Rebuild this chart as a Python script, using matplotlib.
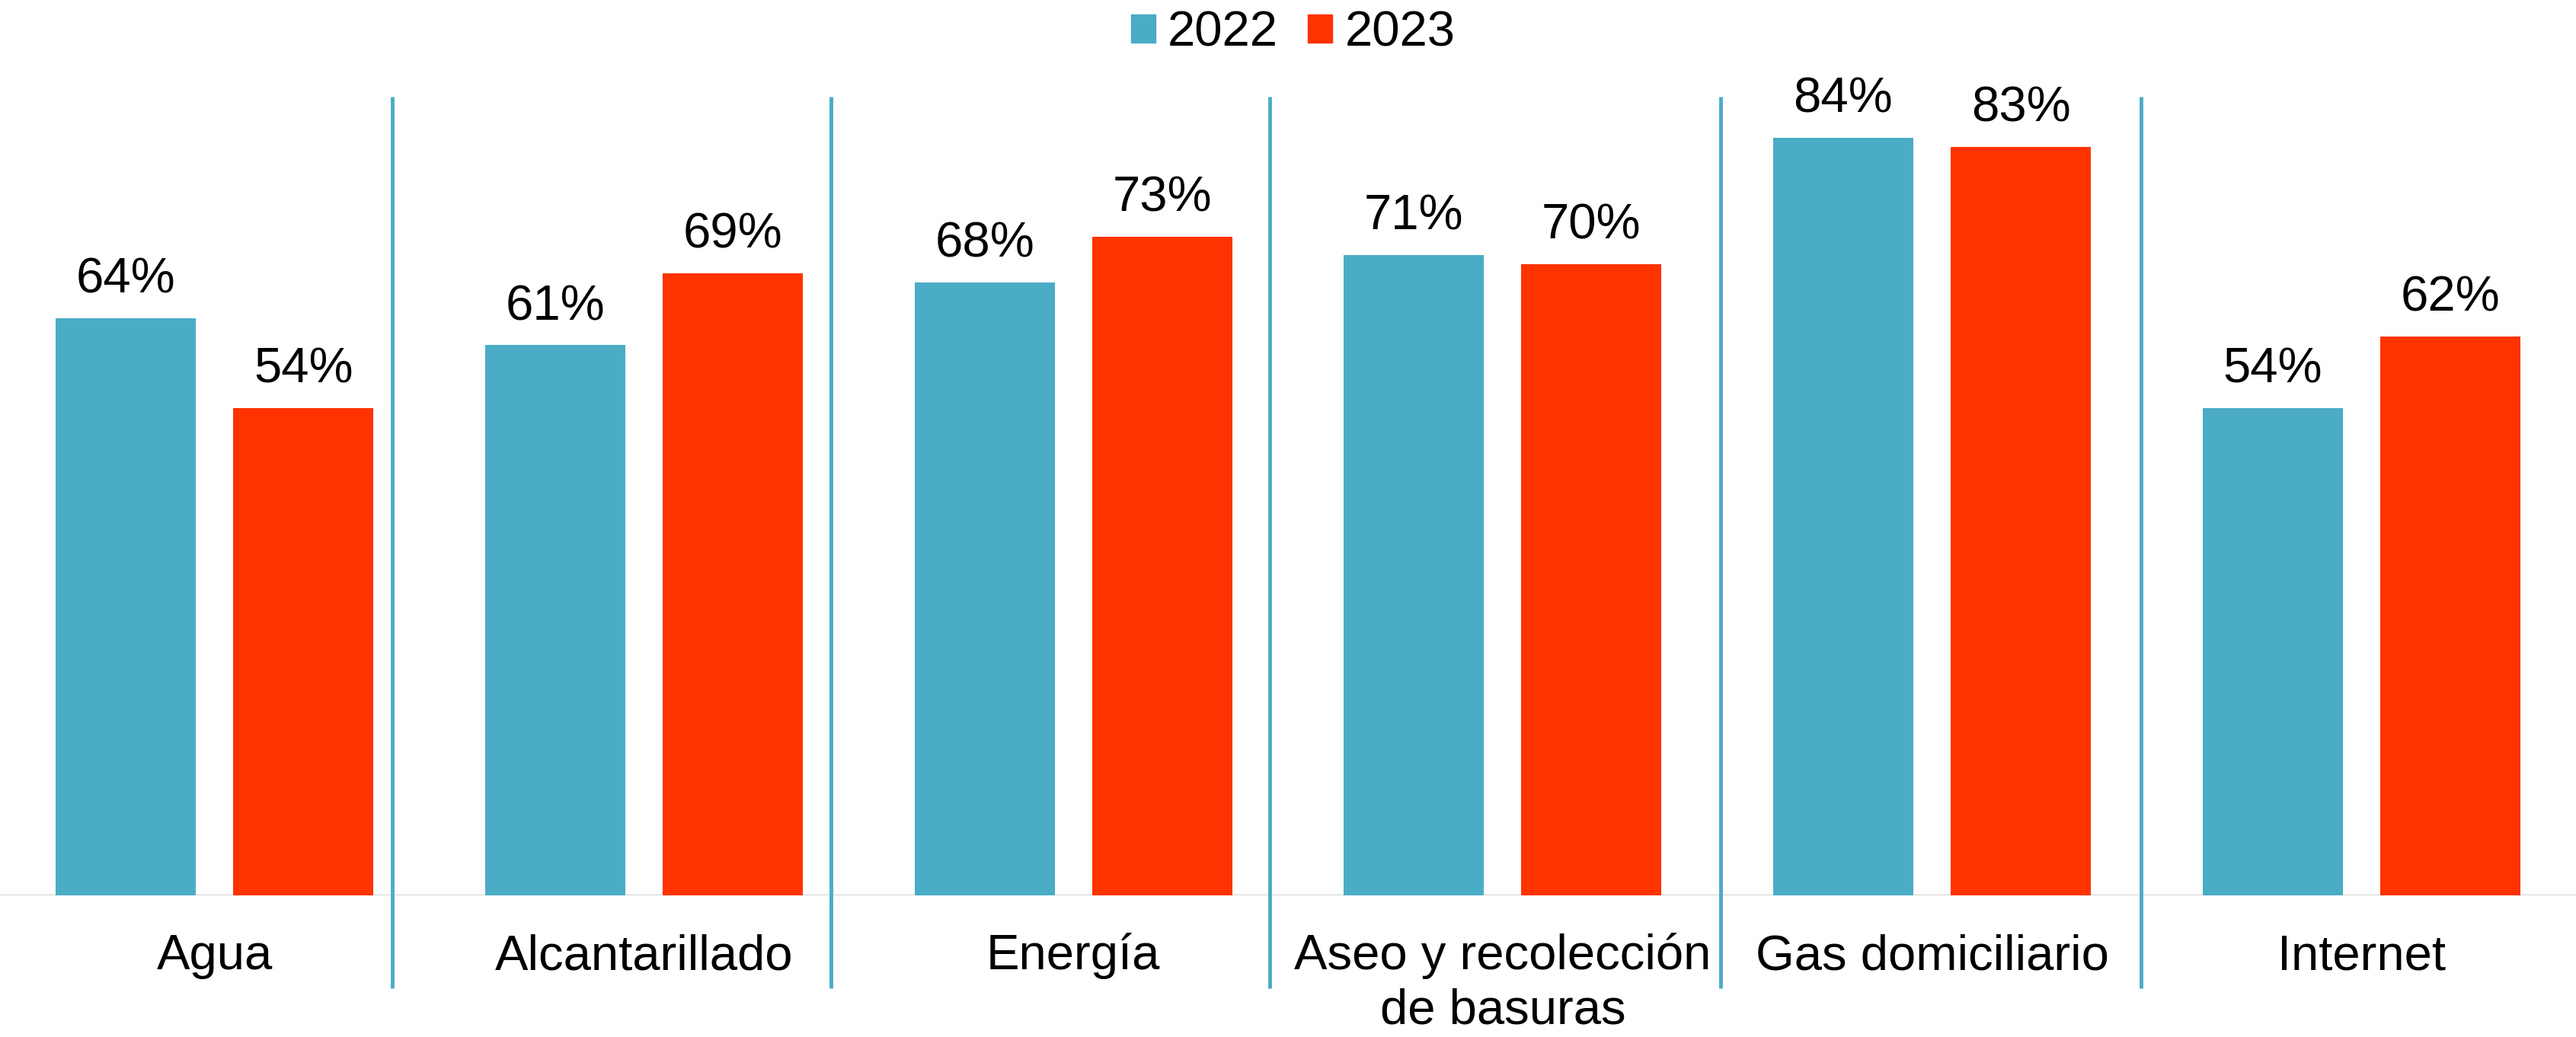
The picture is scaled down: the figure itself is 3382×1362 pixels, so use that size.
import matplotlib
matplotlib.use('Agg')
import matplotlib.pyplot as plt
from matplotlib.patches import Patch
import numpy as np

categories = ['Agua', 'Alcantarillado', 'Energía', 'Aseo y recolección\nde basuras',
              'Gas domiciliario', 'Internet']
vals_2022 = [64, 61, 68, 71, 84, 54]
vals_2023 = [54, 69, 73, 70, 83, 62]
series_names = ['2022', '2023']
# separators between the groups (in category units)
dividers = [0.413, 1.435, 2.457, 3.508, 4.487]

teal = '#4BACC6'
red = '#FF3300'

plt.rcParams['font.family'] = ['Liberation Sans', 'DejaVu Sans']

fig = plt.figure(figsize=(33.82, 13.62), dpi=100)
ax = fig.add_axes([0, 0.1366, 1, 0.8634])

x = np.arange(len(categories))
w = 0.3265
off = 0.2067

b1 = ax.bar(x - off, vals_2022, w, color=teal, zorder=3)
b2 = ax.bar(x + off, vals_2023, w, color=red, zorder=3)

for bars, vals in [(b1, vals_2022), (b2, vals_2023)]:
  for rect, v in zip(bars, vals):
    ax.annotate(f'{v}%', (rect.get_x() + rect.get_width() / 2, v),
                xytext=(0, 24), textcoords='offset points',
                ha='center', va='baseline', fontsize=47, color='black')

ax.axhline(0, color='#D9D9D9', lw=2.5, zorder=2)
ax.vlines(dividers, -10.3, 88.6, color=teal, lw=3.5, clip_on=False, zorder=4)

# category names below the baseline, one text per line
for i, lab in enumerate(categories):
  for k, line in enumerate(lab.split('\n')):
    ax.text(i, -8.2 - 6.0 * k, line, ha='center', va='baseline', fontsize=47,
            clip_on=False)

ax.set_xlim(-0.5, 5.5)
ax.set_ylim(0, 99.28)
ax.axis('off')

handles = [Patch(color=teal), Patch(color=red)]
fig.legend(handles, series_names, loc='upper center', bbox_to_anchor=(0.502, 0.995),
           ncol=2, frameon=False, fontsize=47, handlelength=0.49, handleheight=0.49,
           handletextpad=0.25, columnspacing=0.6, borderaxespad=0.0, borderpad=0.1)

fig.savefig('out.png', dpi=100)
